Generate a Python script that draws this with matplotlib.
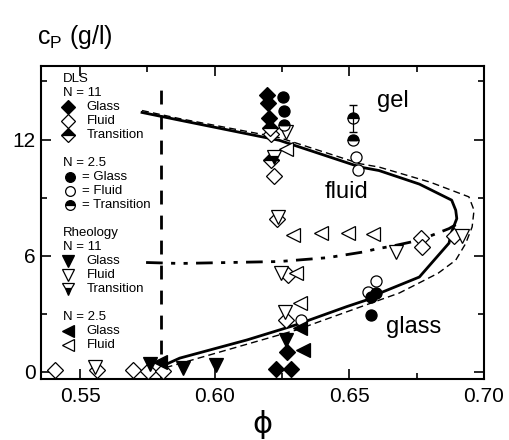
import matplotlib
matplotlib.use("Agg")
import matplotlib.pyplot as plt
from matplotlib.ticker import MultipleLocator

plt.rcParams["font.family"] = ["Liberation Sans", "DejaVu Sans"]
plt.rcParams["mathtext.fontset"] = "custom"
plt.rcParams["mathtext.rm"] = "Liberation Sans"
plt.rcParams["mathtext.it"] = "Liberation Sans"

# boundary curves (phi, c_p)
solid_x = [0.573, 0.587, 0.624, 0.654, 0.661, 0.676, 0.688, 0.6895, 0.6899, 0.688, 0.687,
           0.676, 0.661, 0.6585, 0.649, 0.630, 0.612, 0.587, 0.5805]
solid_y = [13.40, 13.00, 11.96, 10.58, 10.40, 9.70, 8.87, 8.35, 7.92, 7.23, 6.65,
           4.90, 4.05, 3.81, 3.37, 2.42, 1.65, 0.71, 0.30]
dash_x = [0.573, 0.587, 0.624, 0.654, 0.661, 0.680, 0.6944, 0.6963, 0.6956, 0.6932, 0.6895,
          0.683, 0.676, 0.6685, 0.661, 0.630, 0.600, 0.580]
dash_y = [13.50, 13.08, 12.10, 10.75, 10.58, 9.80, 9.04, 8.35, 7.49, 6.63, 5.77,
          5.10, 4.60, 4.07, 3.70, 2.15, 0.95, 0.15]
dd_x = [0.5745, 0.587, 0.624, 0.642, 0.6555, 0.660, 0.666, 0.676, 0.687, 0.6895]
dd_y = [5.65, 5.60, 5.70, 5.90, 6.20, 6.35, 6.50, 6.80, 7.40, 7.60]
phi_rcp = 0.58

# DLS, N = 11 (diamonds)
dls11_glass_x = [0.6195, 0.6197, 0.6200, 0.6228, 0.6284, 0.6270]
dls11_glass_y = [14.30, 13.90, 13.10, 0.15, 0.15, 1.05]
dls11_fluid_x = [0.6210, 0.6220, 0.6230, 0.5405, 0.5562, 0.5697, 0.5753, 0.5809,
                 0.6765, 0.6770, 0.6890, 0.6265, 0.6272]
dls11_fluid_y = [12.30, 10.10, 7.90, 0.10, 0.10, 0.10, 0.05, 0.05,
                 6.90, 6.45, 7.00, 2.70, 5.00]
dls11_trans_x = [0.6206, 0.6210]
dls11_trans_y = [12.60, 10.95]
# DLS, N = 2.5 (circles)
dls25_glass_x = [0.6253, 0.6256, 0.6599, 0.6580, 0.6580]
dls25_glass_y = [14.20, 13.50, 4.05, 3.88, 2.94]
dls25_fluid_x = [0.6525, 0.6531, 0.6600, 0.6568, 0.6320]
dls25_fluid_y = [11.10, 10.45, 4.70, 4.15, 2.70]
dls25_trans_x = [0.6259, 0.6515, 0.6515]
dls25_trans_y = [12.75, 13.10, 11.96]
dls25_trans_err = [0, 0.7, 0]
# Rheology, N = 11 (down triangles)
rh11_glass_x = [0.5759, 0.5883, 0.6006, 0.6265]
rh11_glass_y = [0.40, 0.20, 0.35, 1.65]
rh11_fluid_x = [0.6263, 0.6234, 0.6245, 0.6260, 0.5556, 0.6673, 0.6920]
rh11_fluid_y = [12.40, 8.00, 5.10, 3.10, 0.25, 6.20, 7.00]
rh11_trans_x = [0.6220]
rh11_trans_y = [11.10]
# Rheology, N = 2.5 (left triangles)
rh25_glass_x = [0.5796, 0.6327, 0.6315]
rh25_glass_y = [0.50, 1.15, 2.25]
rh25_fluid_x = [0.6265, 0.6290, 0.6395, 0.6494, 0.6588, 0.6300, 0.6315]
rh25_fluid_y = [11.50, 7.06, 7.15, 7.15, 7.10, 5.10, 3.55]

fig = plt.figure(figsize=(5.1, 4.4), dpi=100)
ax = fig.add_axes([0.080, 0.139, 0.869, 0.711])

ax.plot(solid_x, solid_y, color="black", lw=2.0, zorder=2)
ax.plot(dash_x, dash_y, color="black", lw=1.0, ls=(0, (5, 3)), zorder=2)
ax.plot(dd_x, dd_y, color="black", lw=2.0, ls=(0, (6, 3, 1.5, 3, 1.5, 3)), zorder=2)
ax.axvline(phi_rcp, ymin=0.0, ymax=0.96, color="black", lw=2.0, ls=(0, (5, 4)), zorder=2)

styles = {
    "dls11_glass": dict(marker="D", mfc="black", ms=8),
    "dls11_fluid": dict(marker="D", mfc="white", ms=8),
    "dls11_trans": dict(marker="D", mfc="black", fillstyle="top", mfcalt="white", ms=8),
    "dls25_glass": dict(marker="o", mfc="black", ms=8),
    "dls25_fluid": dict(marker="o", mfc="white", ms=8),
    "dls25_trans": dict(marker="o", mfc="black", fillstyle="top", mfcalt="white", ms=8),
    "rh11_glass": dict(marker="v", mfc="black", ms=10),
    "rh11_fluid": dict(marker="v", mfc="white", ms=10),
    "rh11_trans": dict(marker="v", mfc="black", fillstyle="bottom", mfcalt="white", ms=10),
    "rh25_glass": dict(marker="<", mfc="black", ms=10),
    "rh25_fluid": dict(marker="<", mfc="white", ms=10),
}

series = [
    ("dls11_fluid", dls11_fluid_x, dls11_fluid_y),
    ("rh11_fluid", rh11_fluid_x, rh11_fluid_y),
    ("rh25_fluid", rh25_fluid_x, rh25_fluid_y),
    ("dls25_fluid", dls25_fluid_x, dls25_fluid_y),
    ("dls11_trans", dls11_trans_x, dls11_trans_y),
    ("rh11_trans", rh11_trans_x, rh11_trans_y),
    ("dls25_trans", dls25_trans_x, dls25_trans_y),
    ("dls11_glass", dls11_glass_x, dls11_glass_y),
    ("dls25_glass", dls25_glass_x, dls25_glass_y),
    ("rh11_glass", rh11_glass_x, rh11_glass_y),
    ("rh25_glass", rh25_glass_x, rh25_glass_y),
]
for key, xs, ys in series:
    ax.plot(xs, ys, ls="none", mec="black", mew=0.9, zorder=3, clip_on=False, **styles[key])

ax.errorbar(dls25_trans_x, dls25_trans_y, yerr=dls25_trans_err, fmt="none",
            ecolor="black", elinewidth=0.9, capsize=3, zorder=3)

ax.text(0.666, 14.0, "gel", fontsize=17, ha="center", va="center")
ax.text(0.649, 9.3, "fluid", fontsize=17, ha="center", va="center")
ax.text(0.674, 2.3, "glass", fontsize=17, ha="center", va="center")

# hand-made key on the left
key_rows = [
    ("DLS", None, 0), ("N = 11", None, 0),
    ("Glass", "dls11_glass", 1), ("Fluid", "dls11_fluid", 1), ("Transition", "dls11_trans", 1),
    (None, None, 0),
    ("N = 2.5", None, 0),
    ("= Glass", "dls25_glass", 2), ("= Fluid", "dls25_fluid", 2), ("= Transition", "dls25_trans", 2),
    (None, None, 0),
    ("Rheology", None, 0), ("N = 11", None, 0),
    ("Glass", "rh11_glass", 1), ("Fluid", "rh11_fluid", 1), ("Transition", "rh11_trans", 1),
    (None, None, 0),
    ("N = 2.5", None, 0),
    ("Glass", "rh25_glass", 1), ("Fluid", "rh25_fluid", 1),
]
y_top, step = 0.958, 0.0448
for i, (label, key, kind) in enumerate(key_rows):
    yy = y_top - i * step
    if label is None:
        continue
    if key is None:
        ax.text(0.050, yy, label, fontsize=9.5, transform=ax.transAxes, va="center", ha="left")
        continue
    st = dict(styles[key])
    st["ms"] = 7 if st["marker"] in ("D", "o") else 8
    mx = 0.062 if kind == 1 else 0.066
    ax.plot([mx], [yy], ls="none", mec="black", mew=0.9, transform=ax.transAxes,
            clip_on=False, **st)
    tx = 0.1035 if kind == 1 else 0.092
    ax.text(tx, yy, label, fontsize=9.5, transform=ax.transAxes, va="center", ha="left")

ax.set_xlim(0.5354, 0.70)
ax.set_ylim(-0.36, 15.8)
ax.xaxis.set_major_locator(MultipleLocator(0.05))
ax.xaxis.set_minor_locator(MultipleLocator(0.025))
ax.yaxis.set_major_locator(MultipleLocator(6))
ax.yaxis.set_minor_locator(MultipleLocator(3))
ax.set_xticks([0.55, 0.60, 0.65, 0.70])
ax.set_xticklabels(["0.55", "0.60", "0.65", "0.70"])
ax.tick_params(which="both", direction="in", top=True, right=True, width=1.2, labelsize=15)
ax.tick_params(axis="x", pad=6)
ax.tick_params(which="major", length=7)
ax.tick_params(which="minor", length=4)
for s in ax.spines.values():
    s.set_linewidth(1.5)

fig.text(0.072, 0.915, r"c$_\mathrm{P}$ (g/l)", fontsize=18, ha="left", va="center")
fig.text(0.515, 0.035, "ϕ", fontsize=22, ha="center", va="center", family=["DejaVu Sans"])

fig.savefig("out.png", dpi=100)
